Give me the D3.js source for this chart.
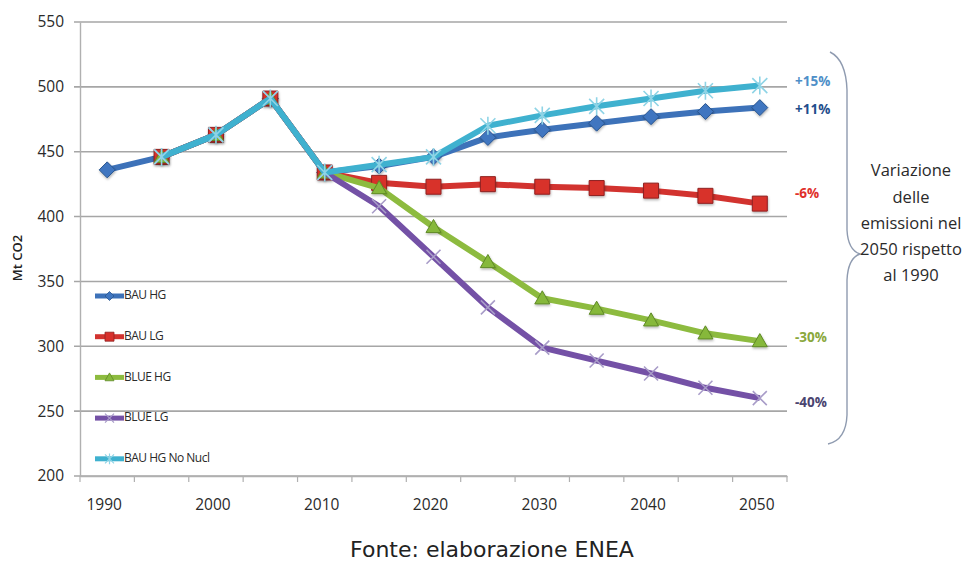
<!DOCTYPE html>
<html>
<head>
<meta charset="utf-8">
<script src="https://cdn.jsdelivr.net/npm/d3@7"></script>
<style>
  html, body { margin: 0; padding: 0; background: #fff; }
  svg { display: block; }
  text { font-family: "Open Sans", "DejaVu Sans", sans-serif; }
</style>
</head>
<body>
<svg id="chart" width="968" height="565"></svg>
<script>
// Years on the category axis (one point every 5 years)
const years = ["1990","1995","2000","2005","2010","2015","2020","2025","2030","2035","2040","2045","2050"];
// Years that carry a tick label
const yearLabels = ["1990","2000","2010","2020","2030","2040","2050"];
// Y axis ticks (Mt CO2)
const yTicks = [200, 250, 300, 350, 400, 450, 500, 550];

// CO2 emissions per scenario, Mt CO2 (null = no value)
const bauHG      = [436, 446, 463, 491, 434, 439, 446, 461, 467, 472, 477, 481, 484];
const bauLG      = [null, 446, 463, 491, 434, 426, 423, 425, 423, 422, 420, 416, 410];
const blueHG     = [null, 446, 463, 491, 434, 422, 392, 365, 337, 329, 320, 310, 304];
const blueLG     = [null, 446, 463, 491, 434, 408, 369, 330, 299, 289, 279, 268, 260];
const bauHGNoNuc = [null, 446, 463, 491, 434, 440, 446, 470, 478, 485, 491, 497, 501];

const seriesNames = ["BAU HG", "BAU LG", "BLUE HG", "BLUE LG", "BAU HG No Nucl"];

const yTitle = "Mt CO2";
const sideNote = ["Variazione", "delle", "emissioni nel", "2050 rispetto", "al 1990"];
const sourceNote = "Fonte: elaborazione ENEA";

// ---- styling per series ----
const styles = [
  { line: "#3d72b9", fill: "#3f76c0", stroke: "#2a558f", marker: "diamond", label: "#1f4e8c", dy: 3 },
  { line: "#d2332f", fill: "#d8302c", stroke: "#8f2220", marker: "square",  label: "#e0302a", dy: -9 },
  { line: "#8dbb3f", fill: "#86b83a", stroke: "#5f8a26", marker: "triangle",label: "#8aa83c", dy: -3 },
  { line: "#7451a6", fill: "none",    stroke: "#a89cc8", marker: "x",       label: "#4a4470", dy: 5 },
  { line: "#3fb1cf", fill: "none",    stroke: "#8fd4e6", marker: "star",    label: "#4e8fc8", dy: -3 }
];
const seriesData = [bauHG, bauLG, blueHG, blueLG, bauHGNoNuc];

const svg = d3.select("#chart");
const plotLeft = 80, plotRight = 787, plotTop = 22, plotBottom = 476;

const x = d3.scaleBand().domain(years).range([plotLeft, plotRight]).paddingInner(0).paddingOuter(0);
const y = d3.scaleLinear().domain([200, 550]).range([plotBottom, plotTop]);
const cx = d => x(d) + x.bandwidth() / 2;

// gridlines
svg.append("g")
  .selectAll("line")
  .data(yTicks)
  .join("line")
  .attr("x1", plotLeft - 6).attr("x2", plotRight)
  .attr("y1", d => y(d)).attr("y2", d => y(d))
  .attr("stroke", "#a6a6a6").attr("stroke-width", 1.6);

// y axis
const yAxis = svg.append("g")
  .attr("transform", `translate(${plotLeft},0)`)
  .call(d3.axisLeft(y).tickValues(yTicks).tickSize(0).tickPadding(16));
yAxis.select(".domain").attr("stroke", "#b0b0b0").attr("stroke-width", 1.4);
yAxis.selectAll("text").attr("font-size", 15.5).attr("fill", "#2a2a2a")
  .style("font-family", "'Open Sans', sans-serif");

// x axis: labels at band centres, tick marks at band boundaries
const xAxis = svg.append("g")
  .attr("transform", `translate(0,${plotBottom})`)
  .call(d3.axisBottom(x).tickValues(yearLabels).tickSize(0).tickPadding(23));
xAxis.select(".domain").attr("stroke", "#b0b0b0").attr("stroke-width", 1.4);
xAxis.selectAll("text").attr("font-size", 15.5).attr("fill", "#2a2a2a")
  .attr("dx", -3)
  .style("font-family", "'Open Sans', sans-serif");
svg.append("g")
  .selectAll("line")
  .data(years.concat(["end"]))
  .join("line")
  .attr("x1", (d, i) => plotLeft + i * x.bandwidth())
  .attr("x2", (d, i) => plotLeft + i * x.bandwidth())
  .attr("y1", plotBottom).attr("y2", plotBottom + 6)
  .attr("stroke", "#b0b0b0").attr("stroke-width", 1.2);

// y axis title
svg.append("text")
  .attr("transform", "translate(22,258) rotate(-90)")
  .attr("text-anchor", "middle")
  .attr("font-size", 13).attr("font-weight", 600).attr("fill", "#222")
  .text(yTitle);

// marker shapes
function markerPath(kind, r) {
  switch (kind) {
    case "diamond": return `M0,${-r}L${r},0L0,${r}L${-r},0Z`;
    case "square": return `M${-r},${-r}H${r}V${r}H${-r}Z`;
    case "triangle": return `M0,${-r}L${r},${r * 0.75}H${-r}Z`;
    case "x": return `M${-r},${-r}L${r},${r}M${r},${-r}L${-r},${r}`;
    case "star": return `M${-r},${-r}L${r},${r}M${r},${-r}L${-r},${r}M0,${-r * 1.2}V${r * 1.2}`;
  }
}
const markerSize = { diamond: 8, square: 7.5, triangle: 7.5, x: 7, star: 7.5 };

// shadow filter for filled markers
const defs = svg.append("defs");
const f = defs.append("filter").attr("id", "sh").attr("x", "-50%").attr("y", "-50%").attr("width", "200%").attr("height", "200%");
f.append("feDropShadow").attr("dx", 0.5).attr("dy", 1.5).attr("stdDeviation", 1).attr("flood-color", "#000").attr("flood-opacity", 0.3);

const line = d3.line()
  .defined(d => d.v != null)
  .x(d => cx(d.year))
  .y(d => y(d.v));

seriesData.forEach((vals, i) => {
  const st = styles[i];
  const pts = years.map((yr, j) => ({ year: yr, v: vals[j] }));
  const g = svg.append("g");
  g.append("path")
    .datum(pts)
    .attr("d", line)
    .attr("fill", "none")
    .attr("stroke", st.line)
    .attr("stroke-width", 6)
    .attr("stroke-linejoin", "round");
  const stroked = st.marker === "x" || st.marker === "star";
  g.selectAll("path.m")
    .data(pts.filter(d => d.v != null))
    .join("path")
    .attr("class", "m")
    .attr("transform", d => `translate(${cx(d.year)},${y(d.v)})`)
    .attr("d", markerPath(st.marker, markerSize[st.marker]))
    .attr("fill", st.fill)
    .attr("stroke", st.stroke)
    .attr("stroke-width", stroked ? 1.6 : 1)
    .attr("filter", stroked ? null : "url(#sh)");
});

// change 2050 vs 1990, as labels at the right end
const fmt = d3.format("+.0%");
const base = bauHG[0];
seriesData.forEach((vals, i) => {
  const st = styles[i];
  const last = vals[vals.length - 1];
  svg.append("text")
    .attr("x", 795)
    .attr("y", y(last) + st.dy)
    .attr("dominant-baseline", "middle")
    .attr("font-size", 13.5).attr("font-weight", 700)
    .attr("fill", st.label)
    .text(fmt(Math.round((last / base - 1) * 100) / 100).replace("\u2212", "-"));
});

// brace grouping the labels
svg.append("path")
  .attr("d", "M830,52 Q846,60 847,90 L847,230 Q848,250 860,254 Q848,258 847,280 L847,415 Q846,440 828,444")
  .attr("fill", "none").attr("stroke", "#8f9bb0").attr("stroke-width", 1.4);

// side note
svg.append("text")
  .attr("x", 911).attr("y", 172)
  .attr("text-anchor", "middle")
  .attr("font-size", 16.5).attr("fill", "#2a2a2a")
  .selectAll("tspan")
  .data(sideNote)
  .join("tspan")
  .attr("x", 911)
  .attr("dy", (d, i) => i === 0 ? 0 : 26.2)
  .attr("dominant-baseline", "middle")
  .text(d => d);

// legend
const legend = svg.append("g");
seriesNames.forEach((name, i) => {
  const st = styles[i];
  const ly = 296 + i * 40.7;
  const g = legend.append("g").attr("transform", `translate(95,${ly})`);
  g.append("line").attr("x1", 0).attr("x2", 29).attr("y1", 0).attr("y2", 0)
    .attr("stroke", st.line).attr("stroke-width", 5);
  const stroked = st.marker === "x" || st.marker === "star";
  g.append("path")
    .attr("transform", "translate(14.5,0)")
    .attr("d", markerPath(st.marker, 4.5))
    .attr("fill", st.fill).attr("stroke", st.stroke)
    .attr("stroke-width", stroked ? 1.2 : 0.8);
  g.append("text")
    .attr("x", 29).attr("y", 0)
    .attr("dominant-baseline", "middle")
    .attr("font-size", 12).attr("letter-spacing", -0.5).attr("fill", "#2a2a2a")
    .text(name);
});

// source
svg.append("text")
  .attr("x", 492).attr("y", 557)
  .attr("text-anchor", "middle")
  .attr("font-size", 22).attr("fill", "#222")
  .style("font-family", "'DejaVu Sans', sans-serif")
  .text(sourceNote);
</script>
</body>
</html>
